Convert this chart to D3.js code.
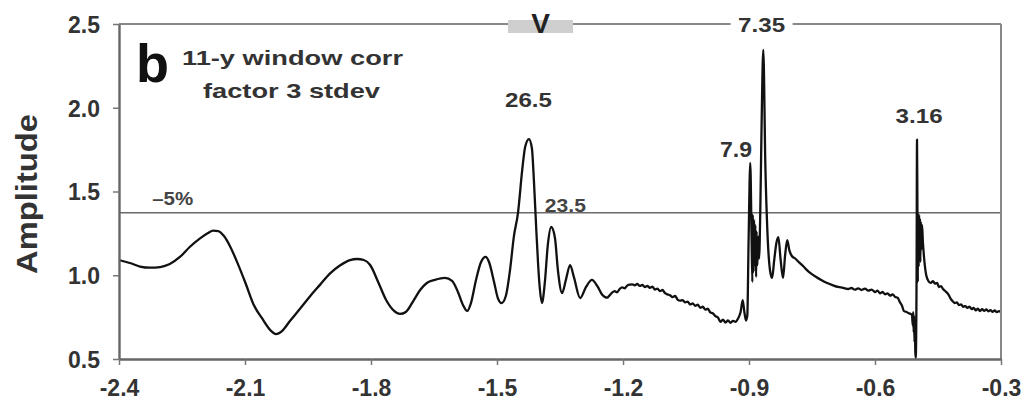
<!DOCTYPE html>
<html>
<head>
<meta charset="utf-8">
<script src="https://cdn.jsdelivr.net/npm/d3@7"></script>
<style>
  html, body { margin: 0; padding: 0; background: #fff; }
  svg text { font-family: "Liberation Sans", Arial, Helvetica, sans-serif; font-weight: bold; }
</style>
</head>
<body>
<svg id="chart" width="1022" height="406"></svg>
<script>
// ---- data ----
const xTicks = [-2.4, -2.1, -1.8, -1.5, -1.2, -0.9, -0.6, -0.3];
const xTickLabels = ["-2.4", "-2.1", "-1.8", "-1.5", "-1.2", "-0.9", "-0.6", "-0.3"];
const yTicks = [0.5, 1.0, 1.5, 2.0, 2.5];
const yTickLabels = ["0.5", "1.0", "1.5", "2.0", "2.5"];
const threshold = 1.373;
const vBand = [-1.474, -1.319];
const peakLabels = ["26.5", "23.5", "7.9", "7.35", "3.16"];
const peakLogFreq = [-1.425, -1.386, -0.931, -0.870, -0.495];
const peakLabelAmp = [2.004, 1.378, 1.706, 2.452, 1.909];

const logFreq = [
  -2.400, -2.374, -2.350, -2.326, -2.302, -2.279, -2.255, -2.231, -2.207, -2.188,
  -2.176, -2.164, -2.150, -2.136, -2.117, -2.098, -2.079, -2.060, -2.040, -2.026,
  -2.012, -1.993, -1.969, -1.945, -1.921, -1.898, -1.874, -1.850, -1.833, -1.817,
  -1.802, -1.783, -1.764, -1.745, -1.731, -1.717, -1.698, -1.683, -1.667, -1.648,
  -1.624, -1.607, -1.593, -1.581, -1.571, -1.562, -1.550, -1.538, -1.527, -1.519,
  -1.507, -1.498, -1.489, -1.479, -1.469, -1.460, -1.450, -1.440, -1.433, -1.424,
  -1.417, -1.412, -1.407, -1.402, -1.398, -1.393, -1.386, -1.379, -1.371, -1.362,
  -1.355, -1.345, -1.336, -1.326, -1.317, -1.302, -1.288, -1.274, -1.260,
  -1.250, -1.244, -1.238, -1.232, -1.226, -1.220, -1.214, -1.208, -1.202, -1.196,
  -1.190, -1.184, -1.178, -1.172, -1.166, -1.160, -1.154, -1.148, -1.142, -1.136,
  -1.130, -1.124, -1.118, -1.112, -1.106, -1.100, -1.094, -1.088, -1.082, -1.076,
  -1.070, -1.064, -1.058, -1.052, -1.046, -1.040, -1.034, -1.028, -1.022, -1.016,
  -1.010, -1.004, -0.998, -0.992, -0.986, -0.980, -0.974, -0.968, -0.962, -0.956,
  -0.950, -0.944, -0.938, -0.932, -0.926, -0.920, -0.915, -0.911, -0.907, -0.904,
  -0.901, -0.897, -0.894, -0.892, -0.891, -0.889, -0.888, -0.886, -0.885, -0.883,
  -0.882, -0.880, -0.878, -0.876, -0.873, -0.870, -0.866, -0.861, -0.856, -0.850,
  -0.845, -0.840, -0.835, -0.830, -0.825, -0.819, -0.814, -0.809, -0.804, -0.798,
  -0.790, -0.780, -0.770, -0.762, -0.752, -0.740, -0.728, -0.714, -0.700, -0.688,
  -0.676, -0.664, -0.656, -0.648, -0.640, -0.632, -0.624, -0.616, -0.608, -0.600,
  -0.594, -0.588, -0.582, -0.576, -0.570, -0.564, -0.558, -0.552, -0.546, -0.541,
  -0.536, -0.531, -0.526, -0.521, -0.516, -0.512, -0.510, -0.509, -0.508, -0.507,
  -0.506, -0.505, -0.504, -0.503, -0.501, -0.500, -0.499, -0.498, -0.497, -0.496,
  -0.495, -0.494, -0.493, -0.492, -0.491, -0.490, -0.488, -0.486, -0.483, -0.478,
  -0.472, -0.467, -0.462, -0.457, -0.452, -0.448, -0.443, -0.438, -0.433, -0.428,
  -0.424, -0.420, -0.415, -0.410, -0.405, -0.400, -0.395, -0.390, -0.385, -0.380,
  -0.375, -0.370, -0.365, -0.360, -0.355, -0.350, -0.345, -0.340, -0.335, -0.330,
  -0.325, -0.320, -0.315, -0.310, -0.305, -0.300
];

const amplitude = [
  1.091, 1.073, 1.052, 1.045, 1.049, 1.067, 1.109, 1.170, 1.220, 1.252,
  1.266, 1.264, 1.234, 1.175, 1.068, 0.948, 0.822, 0.745, 0.673, 0.649,
  0.667, 0.727, 0.800, 0.875, 0.944, 1.010, 1.058, 1.090, 1.097, 1.091,
  1.061, 0.960, 0.852, 0.787, 0.769, 0.781, 0.852, 0.912, 0.954, 0.972,
  0.984, 0.966, 0.900, 0.822, 0.787, 0.834, 0.972, 1.079, 1.110, 1.079,
  0.960, 0.864, 0.834, 0.876, 1.031, 1.228, 1.373, 1.628, 1.766, 1.813,
  1.760, 1.560, 1.300, 1.060, 0.920, 0.834, 0.960, 1.181, 1.288, 1.222,
  1.031, 0.894, 0.972, 1.061, 0.990, 0.864, 0.930, 0.972, 0.930,
  0.885, 0.872, 0.866, 0.880, 0.896, 0.905, 0.898, 0.918, 0.928, 0.922,
  0.938, 0.944, 0.946, 0.940, 0.948, 0.936, 0.942, 0.930, 0.936, 0.925,
  0.932, 0.915, 0.920, 0.905, 0.912, 0.893, 0.886, 0.880, 0.870, 0.876,
  0.855, 0.848, 0.852, 0.838, 0.842, 0.826, 0.832, 0.818, 0.824, 0.806,
  0.812, 0.795, 0.800, 0.778, 0.772, 0.756, 0.748, 0.722, 0.735, 0.718,
  0.730, 0.716, 0.728, 0.722, 0.742, 0.780, 0.852, 0.780, 0.730, 0.760,
  1.200, 1.670, 1.250, 0.960, 1.360, 1.020, 1.330, 1.060, 1.300, 0.990,
  1.260, 1.060, 1.230, 1.100, 1.400, 1.900, 2.345, 1.650, 1.250, 1.030,
  0.984, 1.090, 1.190, 1.228, 1.100, 0.984, 1.120, 1.210, 1.150, 1.115,
  1.100, 1.075, 1.052, 1.031, 1.010, 0.990, 0.972, 0.954, 0.940, 0.930,
  0.925, 0.918, 0.924, 0.914, 0.922, 0.912, 0.920, 0.908, 0.914, 0.900,
  0.908, 0.892, 0.900, 0.886, 0.892, 0.878, 0.886, 0.870, 0.866, 0.840,
  0.820, 0.786, 0.782, 0.775, 0.770, 0.763, 0.700, 0.780, 0.660, 0.760,
  0.600, 0.700, 0.540, 0.506, 1.000, 1.810, 1.400, 0.960, 1.370, 1.050,
  1.360, 1.100, 1.340, 1.080, 1.320, 1.150, 1.300, 1.200, 1.100, 1.000,
  0.962, 0.954, 0.965, 0.950, 0.955, 0.930, 0.935, 0.918, 0.906, 0.894,
  0.880, 0.860, 0.845, 0.834, 0.838, 0.822, 0.826, 0.812, 0.816, 0.806,
  0.812, 0.798, 0.805, 0.790, 0.800, 0.786, 0.798, 0.788, 0.796, 0.785,
  0.792, 0.782, 0.790, 0.780, 0.786, 0.780
];

// ---- chart ----
const svg = d3.select("#chart");
const mLeft = 119, mRight = 1001, mTop = 24, mBottom = 359;
const x = d3.scaleLinear().domain([-2.4, -0.3]).range([mLeft, mRight]);
const y = d3.scaleLinear().domain([0.5, 2.5]).range([mBottom, mTop]);
const txt = "#333";

// threshold line
svg.append("line")
  .attr("x1", mLeft).attr("x2", mRight)
  .attr("y1", y(threshold)).attr("y2", y(threshold))
  .attr("stroke", "#6a6a6a").attr("stroke-width", 1.6);

// curve
const pts = logFreq.map((v, i) => [v, amplitude[i]]);
svg.append("path")
  .datum(pts)
  .attr("fill", "none")
  .attr("stroke", "#111")
  .attr("stroke-width", 2.3)
  .attr("stroke-linejoin", "round")
  .attr("d", d3.line().x(d => x(d[0])).y(d => y(d[1])).curve(d3.curveMonotoneX));

// frame: top and right
svg.append("line").attr("x1", mLeft).attr("x2", mRight).attr("y1", mTop).attr("y2", mTop)
  .attr("stroke", "#888").attr("stroke-width", 2);
svg.append("line").attr("x1", mRight).attr("x2", mRight).attr("y1", mTop).attr("y2", mBottom)
  .attr("stroke", "#888").attr("stroke-width", 2);

// axes
const yAxis = d3.axisLeft(y).tickValues(yTicks).tickFormat((d, i) => yTickLabels[i])
  .tickSize(6).tickPadding(13).tickSizeOuter(0);
const gy = svg.append("g").attr("transform", `translate(${mLeft},0)`).call(yAxis);
gy.select(".domain").attr("stroke", "#666").attr("stroke-width", 2.4);
gy.selectAll(".tick line").attr("stroke", "#777").attr("stroke-width", 1.5);
gy.selectAll(".tick text").attr("fill", txt).style("font-size", "23px").attr("dy", "0.36em");

const xAxis = d3.axisBottom(x).tickValues(xTicks).tickFormat((d, i) => xTickLabels[i])
  .tickSize(6).tickPadding(15).tickSizeOuter(0);
const gx = svg.append("g").attr("transform", `translate(0,${mBottom})`).call(xAxis);
gx.select(".domain").attr("stroke", "#666").attr("stroke-width", 2.4);
gx.selectAll(".tick line").attr("stroke", "#777").attr("stroke-width", 1.5);
gx.selectAll(".tick text").attr("fill", txt).style("font-size", "23px");

// V band on the top border
svg.append("rect")
  .attr("x", x(vBand[0])).attr("width", x(vBand[1]) - x(vBand[0]))
  .attr("y", 20).attr("height", 13)
  .attr("fill", "#cfcfcf");
svg.append("text")
  .attr("x", x((vBand[0] + vBand[1]) / 2)).attr("y", 33)
  .attr("text-anchor", "middle").attr("fill", "#222")
  .style("font-size", "28px").text("V");

// peak labels
const fs = [21, 19, 22, 21, 21];
const tl = [47, 41, 32, 47, 47];
const anchor = ["middle", "start", "middle", "middle", "middle"];
peakLabels.forEach((lab, i) => {
  const px = x(peakLogFreq[i]), py = y(peakLabelAmp[i]);
  if (lab === "7.35") {
    svg.append("rect").attr("x", px - 31).attr("y", 14).attr("width", 62).attr("height", 20)
      .attr("fill", "#fff");
  }
  svg.append("text")
    .attr("x", px).attr("y", py)
    .attr("text-anchor", anchor[i])
    .attr("fill", i === 1 ? "#444" : txt)
    .style("font-size", fs[i] + "px")
    .attr("textLength", tl[i]).attr("lengthAdjust", "spacingAndGlyphs")
    .text(lab);
});

// -5% label
svg.append("text")
  .attr("x", x(-2.321)).attr("y", y(1.419))
  .attr("fill", "#444").style("font-size", "18px")
  .attr("textLength", 41).attr("lengthAdjust", "spacingAndGlyphs")
  .text("\u20135%");

// panel label and description
svg.append("text").attr("x", 136).attr("y", 82).attr("fill", "#111")
  .style("font-size", "54px").text("b");
svg.append("text").attr("x", 182).attr("y", 65).attr("fill", txt)
  .style("font-size", "21px").attr("textLength", 221).attr("lengthAdjust", "spacingAndGlyphs")
  .text("11-y window corr");
svg.append("text").attr("x", 203).attr("y", 98).attr("fill", txt)
  .style("font-size", "21px").attr("textLength", 177).attr("lengthAdjust", "spacingAndGlyphs")
  .text("factor 3 stdev");

// y axis title
svg.append("text")
  .attr("transform", "translate(37,194) rotate(-90)")
  .attr("text-anchor", "middle").attr("fill", txt)
  .style("font-size", "30px")
  .attr("textLength", 160).attr("lengthAdjust", "spacingAndGlyphs")
  .text("Amplitude");
</script>
</body>
</html>
